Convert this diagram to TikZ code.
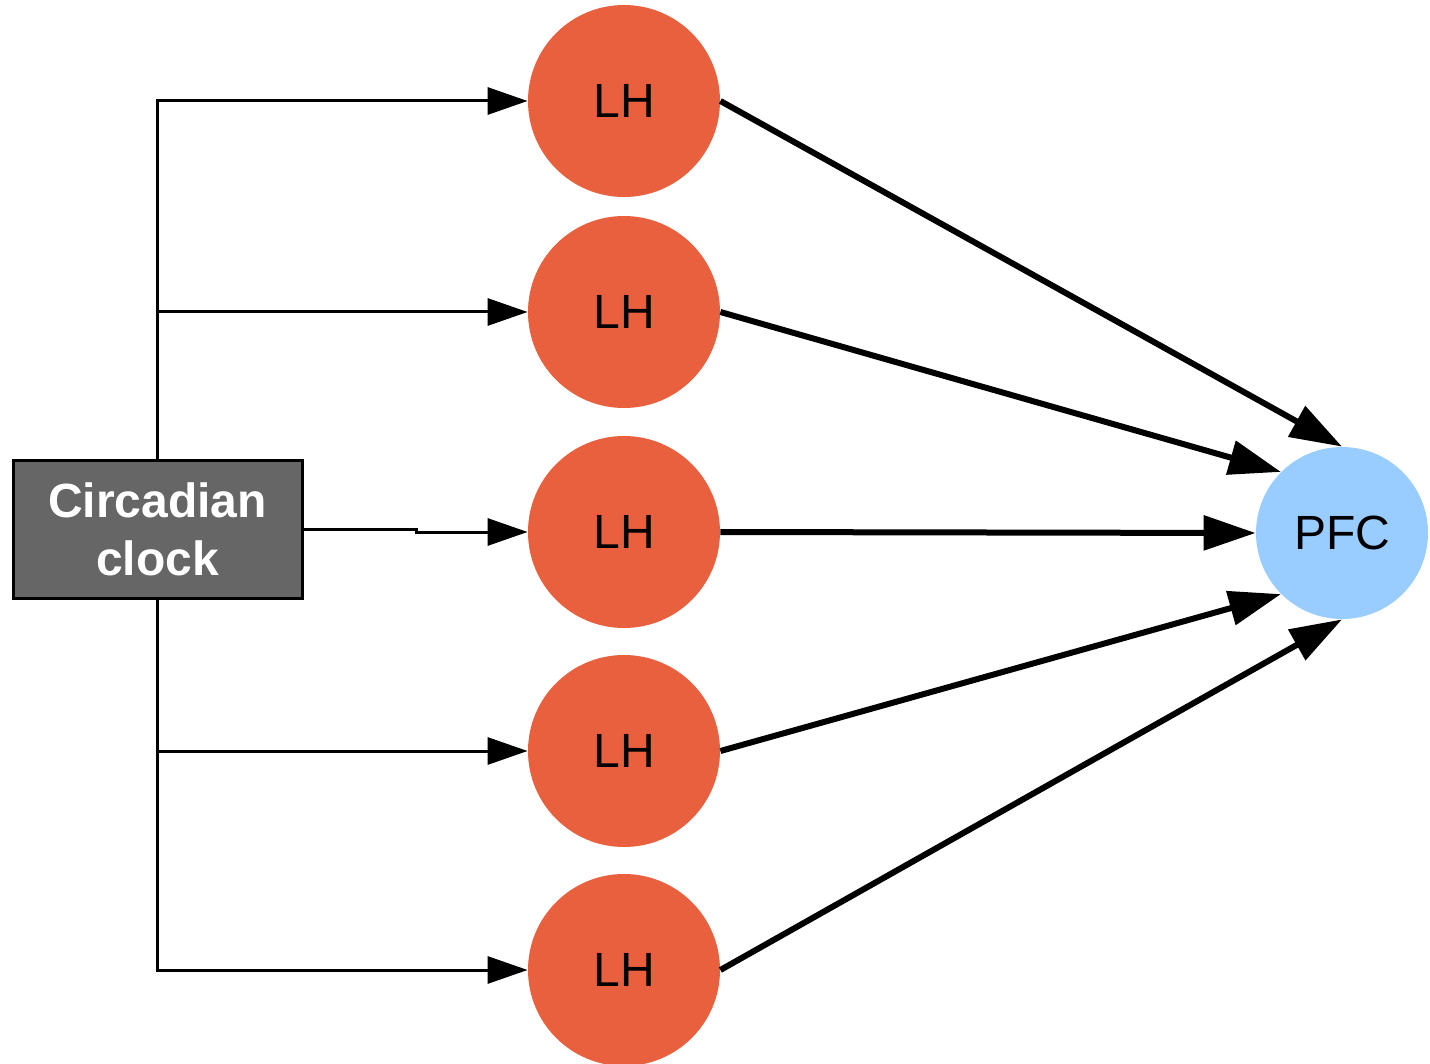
\documentclass[tikz,border=0pt]{standalone}
\usepackage{fontspec}
\setmainfont{Liberation Sans}
\usepackage{tikz}
\usetikzlibrary{positioning,arrows.meta,calc}

\definecolor{lhred}{HTML}{E9603F}
\definecolor{pfcblue}{HTML}{99CCFF}
\definecolor{clockgray}{HTML}{666666}

\begin{document}
\begin{tikzpicture}[x=0.5pt, y=-0.5pt,
    lh/.style={circle, fill=lhred, minimum size=96pt, inner sep=0pt, font=\fontsize{24}{27}\selectfont},
    pfc/.style={circle, fill=pfcblue, minimum size=86pt, inner sep=0pt, font=\fontsize{24}{27}\selectfont},
    clockbox/.style={rectangle, draw=black, line width=1.5pt, fill=clockgray, text=white,
        minimum width=144.5pt, minimum height=69pt, align=center, font=\bfseries\fontsize{24}{29}\selectfont},
    thin arrow/.style={line width=1.5pt, -{Triangle[length=20pt,width=13.5pt]}},
    thick arrow/.style={line width=3pt, -{Triangle[length=26pt,width=17pt]}}]
    \useasboundingbox (0,0) rectangle (1430,1064);

    \node[clockbox] (clock) at (157.5, 529) {Circadian\\ clock};

    \node[lh] (lh1) at (624, 101) {LH};
    \node[lh] (lh2) at (624, 312) {LH};
    \node[lh] (lh3) at (624, 532) {LH};
    \node[lh] (lh4) at (624, 751) {LH};
    \node[lh] (lh5) at (624, 970) {LH};

    \node[pfc] (pfc) at (1342, 533) {PFC};

    % clock to LH
    \draw[thin arrow] (clock.north) |- (lh1.west);
    \draw[thin arrow] (clock.north) |- (lh2.west);
    \draw[thin arrow] (clock.east) -- ++(113,0) |- (lh3.west);
    \draw[thin arrow] (clock.south) |- (lh4.west);
    \draw[thin arrow] (clock.south) |- (lh5.west);

    % LH to PFC
    \draw[thick arrow] (lh1.east) -- (pfc.north);
    \draw[thick arrow] (lh2.east) -- (pfc.north west);
    \draw[thick arrow] (lh3.east) -- (pfc.west);
    \draw[thick arrow] (lh4.east) -- (pfc.south west);
    \draw[thick arrow] (lh5.east) -- (pfc.south);
\end{tikzpicture}
\end{document}
